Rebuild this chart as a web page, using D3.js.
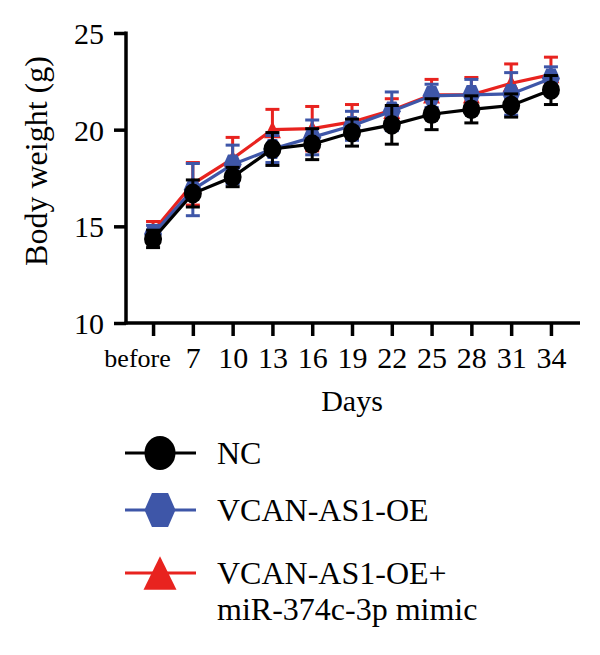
<!DOCTYPE html>
<html><head><meta charset="utf-8">
<script src="https://cdn.jsdelivr.net/npm/d3@7"></script>
<style>body{margin:0;background:#fff}svg{display:block}text,tspan{font-family:"Liberation Serif","Times New Roman",serif !important;fill:#000}</style>
</head><body>
<script>
const days = ["before","7","10","13","16","19","22","25","28","31","34"];
const yTicks = [10,15,20,25];
const seriesNames = ["NC","VCAN-AS1-OE","VCAN-AS1-OE+\nmiR-374c-3p mimic"];
const ncMean   = [14.35,16.7,17.55,19.0,19.25,19.85,20.25,20.8,21.05,21.25,22.05];
const ncErr    = [0.45,0.7,0.5,0.85,0.8,0.7,1.0,0.8,0.7,0.6,0.75];
const oeMean   = [14.6,16.9,18.2,19.0,19.6,20.2,20.95,21.75,21.8,21.85,22.65];
const oeErr    = [0.45,1.35,1.0,0.7,0.9,0.75,1.0,0.6,0.8,1.1,0.6];
const mimMean  = [14.75,17.2,18.5,20.0,20.05,20.4,21.0,21.8,21.8,22.4,22.85];
const mimErr   = [0.5,1.1,1.1,1.05,1.15,0.9,0.6,0.8,0.9,1.0,0.9];

const W=600,H=655;
const FONT='"Liberation Serif","Times New Roman",serif';
const svg=d3.select("body").append("svg").attr("width",W).attr("height",H);
const x=d3.scalePoint().domain(days).range([126,578]).padding(0.68);
const y=d3.scaleLinear().domain([10,25]).range([323,33]);

const series=[
 {name:seriesNames[2],mean:mimMean,err:mimErr,color:"#e8231f",shape:"tri"},
 {name:seriesNames[1],mean:oeMean,err:oeErr,color:"#3e56a8",shape:"hex"},
 {name:seriesNames[0],mean:ncMean,err:ncErr,color:"#000000",shape:"circle"}
];

function shapePath(shape,r){
  const k=1.1;
  if(shape==="circle") return `M${-r},0A${r},${r*k} 0 1,0 ${r},0A${r},${r*k} 0 1,0 ${-r},0Z`;
  if(shape==="hex"){
    const hx=r*0.52, hy=r*k;
    return `M${-r},0L${-hx},${-hy}L${hx},${-hy}L${r},0L${hx},${hy}L${-hx},${hy}Z`;
  }
  const h=r*1.02;
  return `M0,${-h}L${r},${h}L${-r},${h}Z`;
}

const xAxis=svg.append("g").attr("transform","translate(0,323)")
  .call(d3.axisBottom(x).tickSize(13).tickPadding(8).tickSizeOuter(0));
xAxis.select(".domain").attr("stroke-width",3.5).attr("d","M124.5,0H580");
xAxis.selectAll(".tick line").attr("stroke-width",3.5);
xAxis.selectAll(".tick text").attr("font-size",d=>d==="before"?26:30)
  .attr("dy",d=>d==="before"?"0.88em":"0.8em")
  .attr("dx",d=>d==="before"?"-16":"0");

const yAxis=svg.append("g").attr("transform","translate(126,0)")
  .call(d3.axisLeft(y).tickValues(yTicks).tickSize(12).tickPadding(10).tickSizeOuter(0));
yAxis.select(".domain").attr("stroke-width",3.5).attr("d","M0,31.5V324.5");
yAxis.selectAll(".tick line").attr("stroke-width",3.5);
yAxis.selectAll(".tick text").attr("font-size",30).attr("dy","0.35em");

svg.append("text").attr("transform","translate(47,161) rotate(-90)")
  .attr("text-anchor","middle").attr("font-size",32).text("Body weight (g)");
svg.append("text").attr("x",352).attr("y",411).attr("text-anchor","middle")
  .attr("font-size",30).text("Days");

const line=d3.line().x((d,i)=>x(days[i])).y(d=>y(d));
series.forEach(s=>{
  const g=svg.append("g");
  s.mean.forEach((m,i)=>{
    const cx=x(days[i]),t=y(m+s.err[i]),b=y(m-s.err[i]);
    g.append("line").attr("x1",cx).attr("x2",cx).attr("y1",t).attr("y2",b).attr("stroke",s.color).attr("stroke-width",3);
    [t,b].forEach(v=>g.append("line").attr("x1",cx-7).attr("x2",cx+7).attr("y1",v).attr("y2",v).attr("stroke",s.color).attr("stroke-width",3));
  });
  g.append("path").datum(s.mean).attr("d",line).attr("fill","none").attr("stroke",s.color).attr("stroke-width",3.2);
  g.selectAll(".m").data(s.mean).enter().append("path")
   .attr("transform",(d,i)=>`translate(${x(days[i])},${y(d)})`)
   .attr("d",shapePath(s.shape,s.shape==="tri"?8.5:9)).attr("fill",s.color);
});

const legend=[series[2],series[1],series[0]];
const ly=[453,510,573];
legend.forEach((s,i)=>{
  const g=svg.append("g").attr("transform",`translate(0,${ly[i]})`);
  g.append("line").attr("x1",125).attr("x2",196).attr("stroke",s.color).attr("stroke-width",3);
  g.append("path").attr("transform","translate(160,0)").attr("d",shapePath(s.shape,s.shape==="tri"?16.5:15.5)).attr("fill",s.color);
  const lines=s.name.split("\n");
  const t=g.append("text").attr("x",217).attr("y",11).attr("font-size",32);
  lines.forEach((l,j)=>t.append("tspan").attr("x",217).attr("dy",j?36:0).text(l));
});
svg.selectAll("text").attr("font-family",FONT);
</script>
</body></html>
